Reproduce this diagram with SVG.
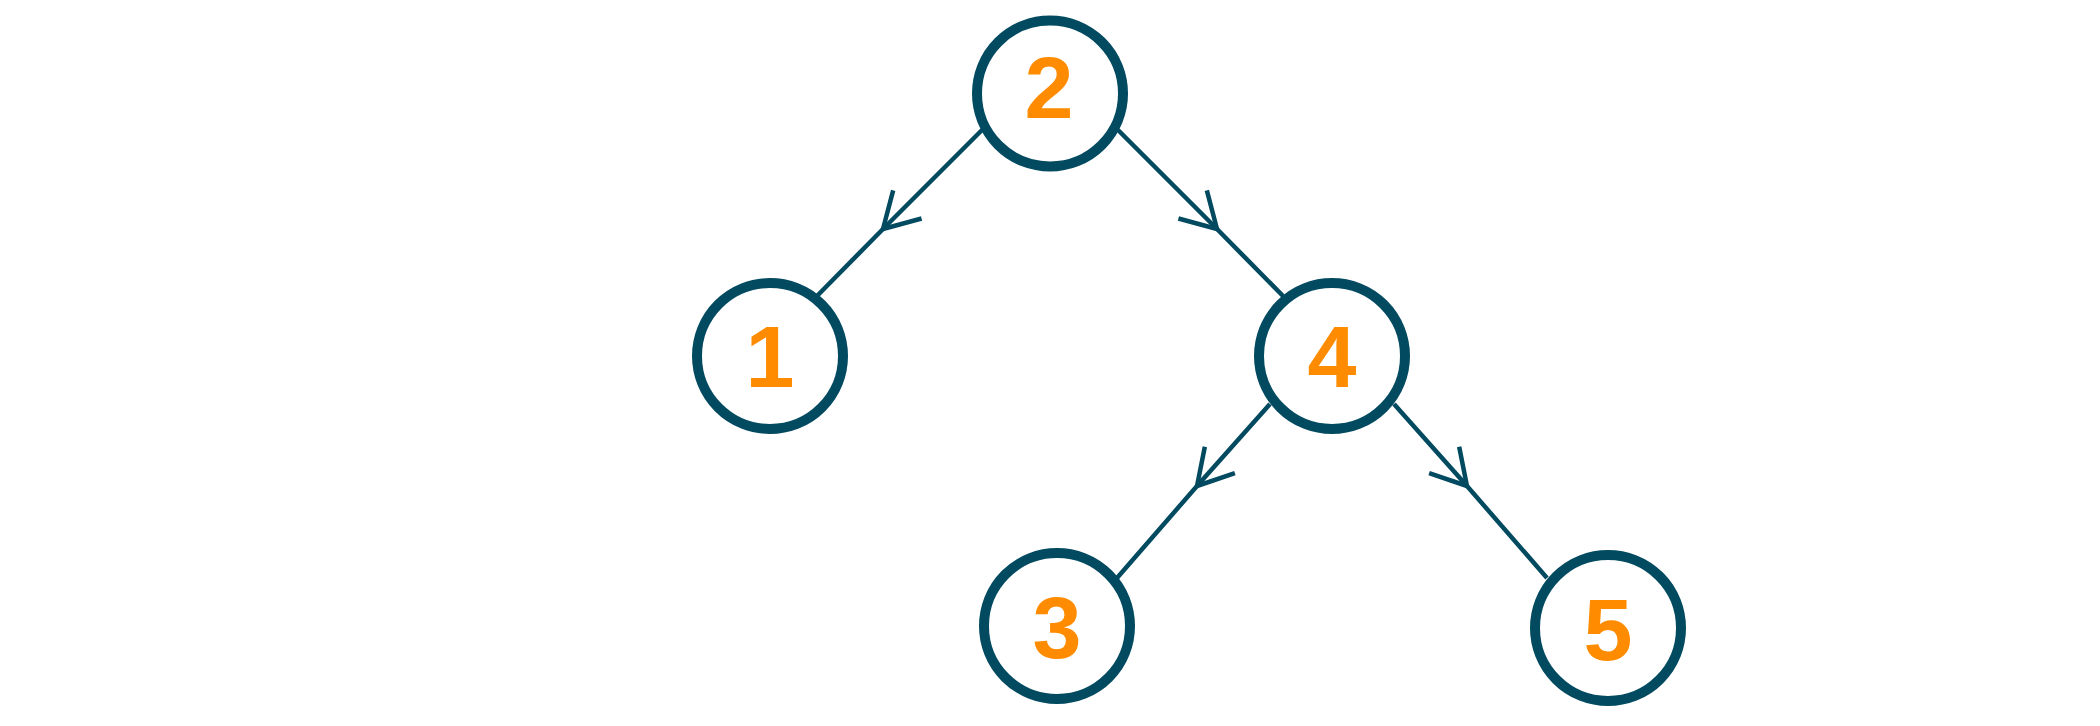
<svg xmlns="http://www.w3.org/2000/svg" width="2100" height="726" viewBox="0 0 2100 726">
  <style>
    .node circle { fill: #ffffff; stroke: #024a60; stroke-width: 10; }
    .node text { font-family: "Liberation Sans", Arial, sans-serif; font-weight: bold; font-size: 88px; fill: #ff8c00; text-anchor: middle; }
    .edge { fill: none; stroke: #024a60; stroke-width: 4.5; marker-mid: url(#arrow); }
  </style>
  <defs>
    <marker id="arrow" markerUnits="userSpaceOnUse" viewBox="-45 -25 50 50" markerWidth="50" markerHeight="50" refX="0" refY="0" orient="auto">
      <path d="M -34.6 -20 L 0 0 L -34.6 20" fill="none" stroke="#024a60" stroke-width="4.5"/>
    </marker>
  </defs>
  <rect width="2100" height="726" fill="#ffffff"/>
  <g id="connectors">
    <path class="edge" d="M 982 130 L 883 229 L 817 296"/>
    <path class="edge" d="M 1118 130 L 1217 229 L 1283 296"/>
    <path class="edge" d="M 1270 404 L 1197 486 L 1117 578"/>
    <path class="edge" d="M 1394 404 L 1467 486 L 1547 578"/>
  </g>
  <g id="node-2" class="node">
    <circle cx="1050" cy="93.5" r="73"/>
    <text x="1049" y="118">2</text>
  </g>
  <g id="node-1" class="node">
    <circle cx="770" cy="356" r="73"/>
    <text x="770" y="387">1</text>
  </g>
  <g id="node-4" class="node">
    <circle cx="1332" cy="356" r="73"/>
    <text x="1332" y="387">4</text>
  </g>
  <g id="node-3" class="node">
    <circle cx="1057" cy="626" r="73"/>
    <text x="1057" y="658">3</text>
  </g>
  <g id="node-5" class="node">
    <circle cx="1608" cy="628" r="73"/>
    <text x="1608" y="660">5</text>
  </g>
</svg>
